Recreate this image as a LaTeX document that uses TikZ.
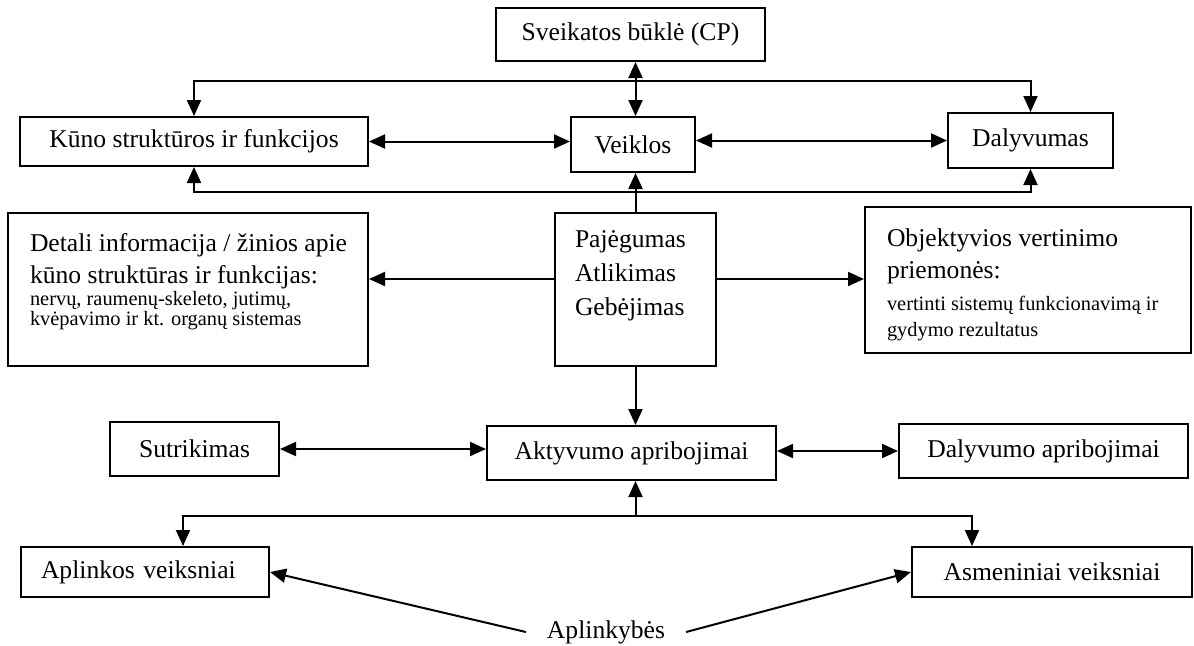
\documentclass[tikz,border=0pt]{standalone}
\usepackage{fontspec}
\setmainfont{Liberation Serif}
\usetikzlibrary{arrows.meta}
\newcommand{\bigtxt}{\fontsize{12.8}{16}\selectfont}
\newcommand{\smalltxt}{\fontsize{10.2}{10.5}\selectfont}
\begin{document}
\begin{tikzpicture}[x=0.5pt, y=-0.5pt, line width=1pt, >={Triangle[length=8pt,width=7pt]},
box/.style={draw,rectangle,inner sep=0pt,font=\bigtxt},
txt/.style={inner sep=0pt,align=left,font=\bigtxt,anchor=north west}]
\useasboundingbox (0,0) rectangle (1194,645);
\begin{scope}
\node[box,minimum width=134.5pt,minimum height=26.5pt] (sveik) at (630.5,34.5) {Sveikatos būklė (CP)};
\node[box,minimum width=174pt,minimum height=24.5pt] (kuno) at (194,141.5) {Kūno struktūros ir funkcijos};
\node[box,minimum width=62pt,minimum height=27.5pt] (veik) at (633,144.5) {Veiklos};
\node[box,minimum width=82.5pt,minimum height=27.5pt] (dal) at (1030.5,140.5) {Dalyvumas};
\node[box,minimum width=180pt,minimum height=76.5pt] (detali) at (188,289.5) {};
\node[box,minimum width=80.5pt,minimum height=76.5pt] (paj) at (635.5,289.5) {};
\node[box,minimum width=163pt,minimum height=73pt] (objekt) at (1028,280) {};
\node[box,minimum width=84.5pt,minimum height=27pt] (sutr) at (194.5,449) {Sutrikimas};
\node[box,minimum width=144.5pt,minimum height=27pt] (akt) at (631.5,453) {Aktyvumo apribojimai};
\node[box,minimum width=144.5pt,minimum height=27pt] (dalapr) at (1043.5,451) {Dalyvumo apribojimai};
\node[box,minimum width=124pt,minimum height=25pt,text width=104pt,align=left] (aplink) at (145,572) {Aplinkos veiksniai};
\node[box,minimum width=140pt,minimum height=25pt] (asmen) at (1052,572) {Asmeniniai veiksniai};
\node[inner xsep=10pt,font=\bigtxt] (aplinkyb) at (606,632) {Aplinkybės};
% texts inside the large boxes
\node[txt] (detalitxt) at (29,232) {Detali informacija / žinios apie\\
kūno struktūras ir funkcijas:\\[-5pt]
\smalltxt nervų, raumenų-skeleto, jutimų,\\[-6pt]
\smalltxt kvėpavimo ir kt. organų sistemas};
\node[txt] (pajtxt) at (574,230) {Pajėgumas\\[1pt] Atlikimas\\[1pt] Gebėjimas};
\node[txt] (objekttxt) at (886,228) {Objektyvios vertinimo\\
priemonės:\\
\smalltxt vertinti sistemų funkcionavimą ir\\[-3pt]
\smalltxt gydymo rezultatus};
\end{scope}
\coordinate (t) at (0,81);
\coordinate (b) at (0,192);
\coordinate (m) at (0,279);
\coordinate (l) at (183,516);
\coordinate (r) at (972,516);
\begin{scope}
\draw[<->] (sveik.south -| paj) -- (veik.north -| paj);
\draw[<->] (kuno.north) -- (kuno.north |- t) -- (dal.north |- t) -- (dal.north);
\draw[<->] (kuno.south) -- (kuno.south |- b) -- (dal.south |- b) -- (dal.south);
\draw[->] (paj.north) -- (veik.south -| paj);
\draw[<->] (kuno.east) -- (kuno.east -| veik.west);
\draw[<->] (veik.east |- dal) -- (dal.west);
\draw[->] (paj.west |- m) -- (detali.east |- m);
\draw[->] (paj.east |- m) -- (objekt.west |- m);
\draw[->] (paj.south) -- (akt.north -| paj);
\draw[<->] (sutr.east) -- (sutr.east -| akt.west);
\draw[<->] (akt.east |- dalapr) -- (dalapr.west);
\draw[<->] (aplink.north -| l) -- (l) -- (r) -- (asmen.north -| r);
\draw[->] (l -| paj) -- (akt.south -| paj);
\draw[->] (aplinkyb.west) -- (aplink.east);
\draw[->] (aplinkyb.east) -- (asmen.west);
\end{scope}
\end{tikzpicture}
\end{document}
